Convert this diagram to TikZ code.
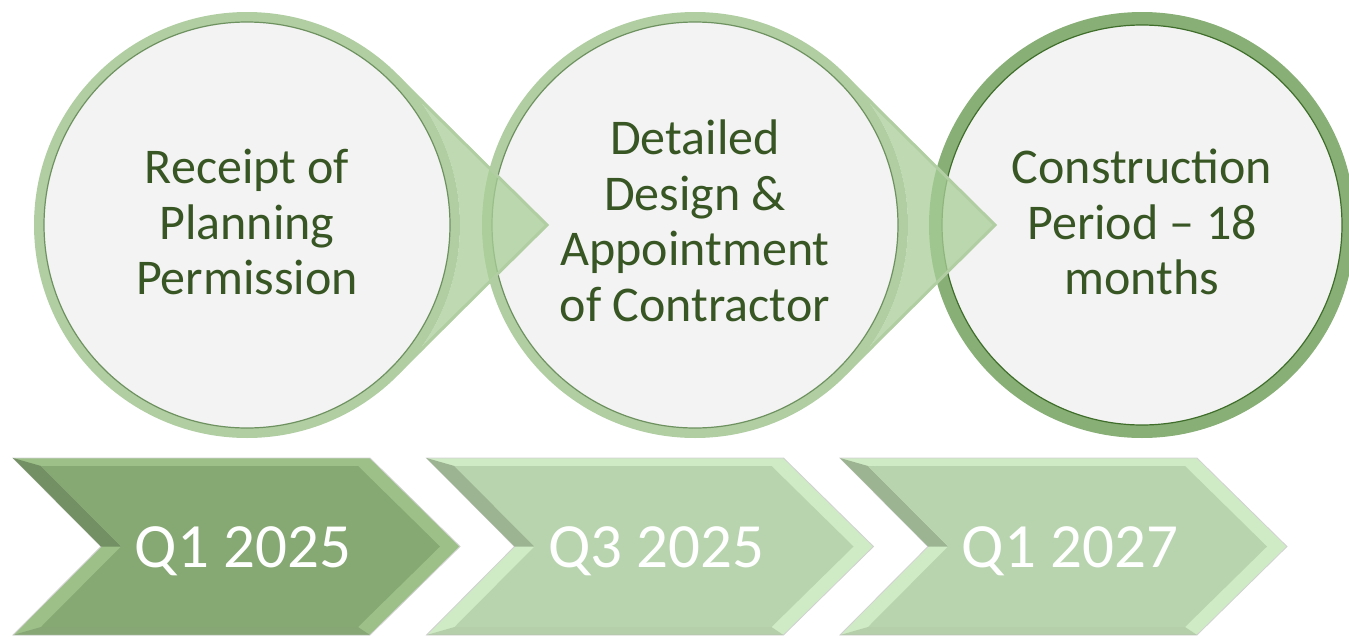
\documentclass[tikz,border=0pt]{standalone}
\usepackage{fontspec}
\setmainfont{Carlito}
\usetikzlibrary{calc}
\definecolor{ringlight}{HTML}{B1CEA3}
\definecolor{ringdark}{HTML}{88AF76}
\definecolor{edgelight}{HTML}{6E9160}
\definecolor{edgedark}{HTML}{3F6E2B}
\definecolor{disc}{HTML}{F3F3F3}
\definecolor{pointer}{HTML}{A9CE98}
\definecolor{steptxt}{HTML}{375623}
\definecolor{chevA}{HTML}{86A873}
\definecolor{chevAhi}{HTML}{9CC088}
\definecolor{chevAlo}{HTML}{738F64}
\definecolor{chevB}{HTML}{B8D4AE}
\definecolor{chevBhi}{HTML}{CFEBC5}
\definecolor{chevBlo}{HTML}{9DB493}

\tikzset{
  steptext/.style={text=steptxt, font=\fontsize{50}{55.5}\selectfont, align=center},
  datetext/.style={text=white, font=\fontsize{63}{70}\selectfont, anchor=base},
}

\begin{document}
\begin{tikzpicture}[x=1pt,y=-1pt]
\useasboundingbox (0,0) rectangle (1349,637);

% discs
\foreach \cx/\rc/\ec/\w in {247/ringlight/edgelight/10, 695/ringlight/edgelight/10, 1142/ringdark/edgedark/13}{
  \fill[\rc] (\cx,225) circle[radius=213];
  \fill[disc] (\cx,225) circle[radius=213-\w];
  \draw[\ec, line width=1.2] (\cx,225) circle[radius=213-\w];
}

% pointers
\foreach \cx in {247,695}{
  \fill[pointer, opacity=0.75] (\cx+300,225) -- ($(\cx,225)+(44.77:213)$)
    arc[start angle=44.77, end angle=-44.77, radius=213] -- cycle;
  \draw[ringlight, line width=3] ($(\cx,225)+(44.77:211)$) -- (\cx+300,225)
    -- ($(\cx,225)+(-44.77:211)$);
}

\node[steptext] (receipt) at (247,222) {Receipt of\\Planning\\Permission};
\node[steptext] (design) at (695,221) {Detailed\\Design \&\\Appointment\\of Contractor};
\node[steptext] (build) at (1142,222) {Construction\\Period – 18\\months};

% chevrons
\foreach \x/\base/\hi/\lo/\lbl/\nm in {13/chevA/chevAhi/chevAlo/Q1 2025/qa,
    426.5/chevB/chevBhi/chevBlo/Q3 2025/qb, 840/chevB/chevBhi/chevBlo/Q1 2027/qc}{
  \fill[\hi, draw=black!18, line width=0.8] (\x,458) -- (\x+357,458) -- (\x+447,546.5)
    -- (\x+357,635) -- (\x,635) -- (\x+88,546.5) -- cycle;
  \fill[\lo] (\x+88,546.5) -- (\x,458) -- (\x+28,466) -- (\x+108,546.5) -- cycle;
  \fill[\lo, opacity=0.5] (\x+357,635) -- (\x,635) -- (\x+28,627) -- (\x+345,627) -- cycle;
  \fill[\base] (\x+28,466) -- (\x+345,466) -- (\x+427,546.5) -- (\x+345,627)
    -- (\x+28,627) -- (\x+108,546.5) -- cycle;
  \node[datetext] (\nm) at (\x+230,567) {\lbl};
}

\end{tikzpicture}
\end{document}
